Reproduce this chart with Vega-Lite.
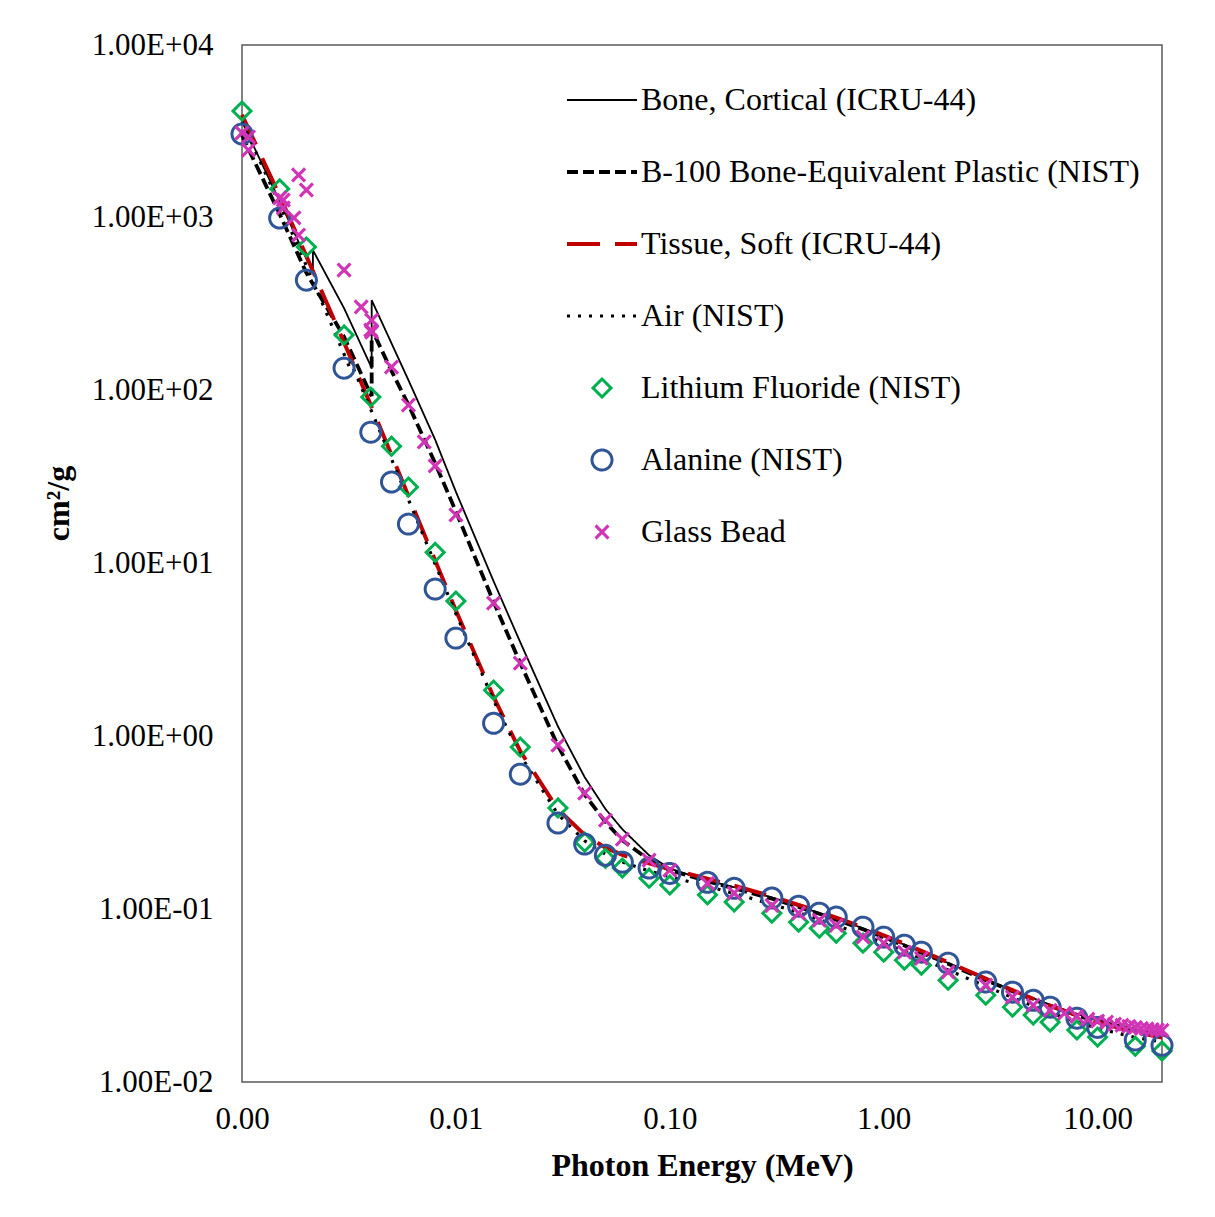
{
"$schema": "https://vega.github.io/schema/vega-lite/v6.json",
"width": 920, "height": 1037,
"autosize": {"type": "none"},
"padding": {"left": 242, "top": 45, "right": 53, "bottom": 135},
"background": "white",
"config": {"view": {"stroke": "#595959", "strokeWidth": 1.5}, "font": "Liberation Serif"},
"data": {"values": [
{"series":"Bone, Cortical (ICRU-44)","E":0.001,"v":3600},{"series":"Bone, Cortical (ICRU-44)","E":0.0015,"v":1250},{"series":"Bone, Cortical (ICRU-44)","E":0.002,"v":580},{"series":"Bone, Cortical (ICRU-44)","E":0.0021455,"v":490},{"series":"Bone, Cortical (ICRU-44)","E":0.0021455,"v":650},{"series":"Bone, Cortical (ICRU-44)","E":0.003,"v":300},{"series":"Bone, Cortical (ICRU-44)","E":0.004,"v":139},{"series":"Bone, Cortical (ICRU-44)","E":0.0040381,"v":134},{"series":"Bone, Cortical (ICRU-44)","E":0.0040381,"v":334},{"series":"Bone, Cortical (ICRU-44)","E":0.005,"v":188},{"series":"Bone, Cortical (ICRU-44)","E":0.006,"v":115},{"series":"Bone, Cortical (ICRU-44)","E":0.008,"v":52},{"series":"Bone, Cortical (ICRU-44)","E":0.01,"v":26},{"series":"Bone, Cortical (ICRU-44)","E":0.015,"v":7.9},{"series":"Bone, Cortical (ICRU-44)","E":0.02,"v":3.5},{"series":"Bone, Cortical (ICRU-44)","E":0.03,"v":1.14},{"series":"Bone, Cortical (ICRU-44)","E":0.04,"v":0.58},{"series":"Bone, Cortical (ICRU-44)","E":0.05,"v":0.38},{"series":"Bone, Cortical (ICRU-44)","E":0.06,"v":0.29},{"series":"Bone, Cortical (ICRU-44)","E":0.08,"v":0.205},{"series":"Bone, Cortical (ICRU-44)","E":0.1,"v":0.172},{"series":"Bone, Cortical (ICRU-44)","E":0.15,"v":0.146},{"series":"Bone, Cortical (ICRU-44)","E":0.2,"v":0.134},{"series":"Bone, Cortical (ICRU-44)","E":0.3,"v":0.117},{"series":"Bone, Cortical (ICRU-44)","E":0.4,"v":0.104},{"series":"Bone, Cortical (ICRU-44)","E":0.5,"v":0.095},{"series":"Bone, Cortical (ICRU-44)","E":0.6,"v":0.088},{"series":"Bone, Cortical (ICRU-44)","E":0.8,"v":0.0775},{"series":"Bone, Cortical (ICRU-44)","E":1,"v":0.0697},{"series":"Bone, Cortical (ICRU-44)","E":1.25,"v":0.0623},{"series":"Bone, Cortical (ICRU-44)","E":1.5,"v":0.0567},{"series":"Bone, Cortical (ICRU-44)","E":2,"v":0.0488},{"series":"Bone, Cortical (ICRU-44)","E":3,"v":0.0393},{"series":"Bone, Cortical (ICRU-44)","E":4,"v":0.034},{"series":"Bone, Cortical (ICRU-44)","E":5,"v":0.0305},{"series":"Bone, Cortical (ICRU-44)","E":6,"v":0.028},{"series":"Bone, Cortical (ICRU-44)","E":8,"v":0.0248},{"series":"Bone, Cortical (ICRU-44)","E":10,"v":0.0228},{"series":"Bone, Cortical (ICRU-44)","E":15,"v":0.0203},{"series":"Bone, Cortical (ICRU-44)","E":20,"v":0.0192},

{"series":"B-100 Bone-Equivalent Plastic (NIST)","E":0.001,"v":3000},{"series":"B-100 Bone-Equivalent Plastic (NIST)","E":0.0015,"v":1050},{"series":"B-100 Bone-Equivalent Plastic (NIST)","E":0.002,"v":480},{"series":"B-100 Bone-Equivalent Plastic (NIST)","E":0.003,"v":205},{"series":"B-100 Bone-Equivalent Plastic (NIST)","E":0.004,"v":95},{"series":"B-100 Bone-Equivalent Plastic (NIST)","E":0.0040381,"v":93},{"series":"B-100 Bone-Equivalent Plastic (NIST)","E":0.0040381,"v":228},{"series":"B-100 Bone-Equivalent Plastic (NIST)","E":0.005,"v":130},{"series":"B-100 Bone-Equivalent Plastic (NIST)","E":0.006,"v":83},{"series":"B-100 Bone-Equivalent Plastic (NIST)","E":0.008,"v":38},{"series":"B-100 Bone-Equivalent Plastic (NIST)","E":0.01,"v":20},{"series":"B-100 Bone-Equivalent Plastic (NIST)","E":0.015,"v":6.0},{"series":"B-100 Bone-Equivalent Plastic (NIST)","E":0.02,"v":2.65},{"series":"B-100 Bone-Equivalent Plastic (NIST)","E":0.03,"v":0.88},{"series":"B-100 Bone-Equivalent Plastic (NIST)","E":0.04,"v":0.46},{"series":"B-100 Bone-Equivalent Plastic (NIST)","E":0.05,"v":0.32},{"series":"B-100 Bone-Equivalent Plastic (NIST)","E":0.06,"v":0.25},{"series":"B-100 Bone-Equivalent Plastic (NIST)","E":0.08,"v":0.193},{"series":"B-100 Bone-Equivalent Plastic (NIST)","E":0.1,"v":0.168},{"series":"B-100 Bone-Equivalent Plastic (NIST)","E":0.15,"v":0.145},{"series":"B-100 Bone-Equivalent Plastic (NIST)","E":0.2,"v":0.132},{"series":"B-100 Bone-Equivalent Plastic (NIST)","E":0.3,"v":0.115},{"series":"B-100 Bone-Equivalent Plastic (NIST)","E":0.4,"v":0.103},{"series":"B-100 Bone-Equivalent Plastic (NIST)","E":0.5,"v":0.094},{"series":"B-100 Bone-Equivalent Plastic (NIST)","E":0.6,"v":0.087},{"series":"B-100 Bone-Equivalent Plastic (NIST)","E":0.8,"v":0.0765},{"series":"B-100 Bone-Equivalent Plastic (NIST)","E":1,"v":0.0688},{"series":"B-100 Bone-Equivalent Plastic (NIST)","E":1.25,"v":0.0616},{"series":"B-100 Bone-Equivalent Plastic (NIST)","E":1.5,"v":0.056},{"series":"B-100 Bone-Equivalent Plastic (NIST)","E":2,"v":0.0483},{"series":"B-100 Bone-Equivalent Plastic (NIST)","E":3,"v":0.0388},{"series":"B-100 Bone-Equivalent Plastic (NIST)","E":4,"v":0.0335},{"series":"B-100 Bone-Equivalent Plastic (NIST)","E":5,"v":0.03},{"series":"B-100 Bone-Equivalent Plastic (NIST)","E":6,"v":0.0275},{"series":"B-100 Bone-Equivalent Plastic (NIST)","E":8,"v":0.0243},{"series":"B-100 Bone-Equivalent Plastic (NIST)","E":10,"v":0.0223},{"series":"B-100 Bone-Equivalent Plastic (NIST)","E":15,"v":0.0198},{"series":"B-100 Bone-Equivalent Plastic (NIST)","E":20,"v":0.0187},

{"series":"Tissue, Soft (ICRU-44)","E":0.001,"v":3950},{"series":"Tissue, Soft (ICRU-44)","E":0.0015,"v":1340},{"series":"Tissue, Soft (ICRU-44)","E":0.002,"v":601},{"series":"Tissue, Soft (ICRU-44)","E":0.003,"v":190},{"series":"Tissue, Soft (ICRU-44)","E":0.004,"v":82.5},{"series":"Tissue, Soft (ICRU-44)","E":0.005,"v":42.5},{"series":"Tissue, Soft (ICRU-44)","E":0.006,"v":24.6},{"series":"Tissue, Soft (ICRU-44)","E":0.008,"v":10.4},{"series":"Tissue, Soft (ICRU-44)","E":0.01,"v":5.35},{"series":"Tissue, Soft (ICRU-44)","E":0.015,"v":1.69},{"series":"Tissue, Soft (ICRU-44)","E":0.02,"v":0.82},{"series":"Tissue, Soft (ICRU-44)","E":0.03,"v":0.378},{"series":"Tissue, Soft (ICRU-44)","E":0.04,"v":0.269},{"series":"Tissue, Soft (ICRU-44)","E":0.05,"v":0.227},{"series":"Tissue, Soft (ICRU-44)","E":0.06,"v":0.206},{"series":"Tissue, Soft (ICRU-44)","E":0.08,"v":0.184},{"series":"Tissue, Soft (ICRU-44)","E":0.1,"v":0.1705},{"series":"Tissue, Soft (ICRU-44)","E":0.15,"v":0.15},{"series":"Tissue, Soft (ICRU-44)","E":0.2,"v":0.1368},{"series":"Tissue, Soft (ICRU-44)","E":0.3,"v":0.1185},{"series":"Tissue, Soft (ICRU-44)","E":0.4,"v":0.1059},{"series":"Tissue, Soft (ICRU-44)","E":0.5,"v":0.0967},{"series":"Tissue, Soft (ICRU-44)","E":0.6,"v":0.0894},{"series":"Tissue, Soft (ICRU-44)","E":0.8,"v":0.0785},{"series":"Tissue, Soft (ICRU-44)","E":1,"v":0.0706},{"series":"Tissue, Soft (ICRU-44)","E":1.25,"v":0.0631},{"series":"Tissue, Soft (ICRU-44)","E":1.5,"v":0.0574},{"series":"Tissue, Soft (ICRU-44)","E":2,"v":0.0493},{"series":"Tissue, Soft (ICRU-44)","E":3,"v":0.0396},{"series":"Tissue, Soft (ICRU-44)","E":4,"v":0.034},{"series":"Tissue, Soft (ICRU-44)","E":5,"v":0.0303},{"series":"Tissue, Soft (ICRU-44)","E":6,"v":0.0277},{"series":"Tissue, Soft (ICRU-44)","E":8,"v":0.0243},{"series":"Tissue, Soft (ICRU-44)","E":10,"v":0.0222},{"series":"Tissue, Soft (ICRU-44)","E":15,"v":0.0194},{"series":"Tissue, Soft (ICRU-44)","E":20,"v":0.0181},

{"series":"Air (NIST)","E":0.001,"v":3606},{"series":"Air (NIST)","E":0.0015,"v":1191},{"series":"Air (NIST)","E":0.002,"v":527.9},{"series":"Air (NIST)","E":0.003,"v":162.5},{"series":"Air (NIST)","E":0.0032029,"v":134},{"series":"Air (NIST)","E":0.0032029,"v":148.5},{"series":"Air (NIST)","E":0.004,"v":77.88},{"series":"Air (NIST)","E":0.005,"v":40.27},{"series":"Air (NIST)","E":0.006,"v":23.41},{"series":"Air (NIST)","E":0.008,"v":9.921},{"series":"Air (NIST)","E":0.01,"v":5.12},{"series":"Air (NIST)","E":0.015,"v":1.614},{"series":"Air (NIST)","E":0.02,"v":0.7779},{"series":"Air (NIST)","E":0.03,"v":0.3538},{"series":"Air (NIST)","E":0.04,"v":0.2485},{"series":"Air (NIST)","E":0.05,"v":0.208},{"series":"Air (NIST)","E":0.06,"v":0.1875},{"series":"Air (NIST)","E":0.08,"v":0.1662},{"series":"Air (NIST)","E":0.1,"v":0.1541},{"series":"Air (NIST)","E":0.15,"v":0.1356},{"series":"Air (NIST)","E":0.2,"v":0.1233},{"series":"Air (NIST)","E":0.3,"v":0.1067},{"series":"Air (NIST)","E":0.4,"v":0.09549},{"series":"Air (NIST)","E":0.5,"v":0.08712},{"series":"Air (NIST)","E":0.6,"v":0.08055},{"series":"Air (NIST)","E":0.8,"v":0.07074},{"series":"Air (NIST)","E":1,"v":0.06358},{"series":"Air (NIST)","E":1.25,"v":0.05687},{"series":"Air (NIST)","E":1.5,"v":0.05175},{"series":"Air (NIST)","E":2,"v":0.04447},{"series":"Air (NIST)","E":3,"v":0.03581},{"series":"Air (NIST)","E":4,"v":0.03079},{"series":"Air (NIST)","E":5,"v":0.02751},{"series":"Air (NIST)","E":6,"v":0.02522},{"series":"Air (NIST)","E":8,"v":0.02225},{"series":"Air (NIST)","E":10,"v":0.02045},{"series":"Air (NIST)","E":15,"v":0.0181},{"series":"Air (NIST)","E":20,"v":0.01705},

{"series":"Lithium Fluoride (NIST)","E":0.001,"v":4150},{"series":"Lithium Fluoride (NIST)","E":0.0015,"v":1470},{"series":"Lithium Fluoride (NIST)","E":0.002,"v":678},{"series":"Lithium Fluoride (NIST)","E":0.003,"v":210},{"series":"Lithium Fluoride (NIST)","E":0.004,"v":91.9},{"series":"Lithium Fluoride (NIST)","E":0.005,"v":47.7},{"series":"Lithium Fluoride (NIST)","E":0.006,"v":27.7},{"series":"Lithium Fluoride (NIST)","E":0.008,"v":11.6},{"series":"Lithium Fluoride (NIST)","E":0.01,"v":6.06},{"series":"Lithium Fluoride (NIST)","E":0.015,"v":1.85},{"series":"Lithium Fluoride (NIST)","E":0.02,"v":0.866},{"series":"Lithium Fluoride (NIST)","E":0.03,"v":0.385},{"series":"Lithium Fluoride (NIST)","E":0.04,"v":0.244},{"series":"Lithium Fluoride (NIST)","E":0.05,"v":0.197},{"series":"Lithium Fluoride (NIST)","E":0.06,"v":0.173},{"series":"Lithium Fluoride (NIST)","E":0.08,"v":0.151},{"series":"Lithium Fluoride (NIST)","E":0.1,"v":0.138},{"series":"Lithium Fluoride (NIST)","E":0.15,"v":0.121},{"series":"Lithium Fluoride (NIST)","E":0.2,"v":0.11},{"series":"Lithium Fluoride (NIST)","E":0.3,"v":0.0948},{"series":"Lithium Fluoride (NIST)","E":0.4,"v":0.0841},{"series":"Lithium Fluoride (NIST)","E":0.5,"v":0.0776},{"series":"Lithium Fluoride (NIST)","E":0.6,"v":0.0726},{"series":"Lithium Fluoride (NIST)","E":0.8,"v":0.0636},{"series":"Lithium Fluoride (NIST)","E":1,"v":0.0564},{"series":"Lithium Fluoride (NIST)","E":1.25,"v":0.0507},{"series":"Lithium Fluoride (NIST)","E":1.5,"v":0.0474},{"series":"Lithium Fluoride (NIST)","E":2,"v":0.0388},{"series":"Lithium Fluoride (NIST)","E":3,"v":0.0318},{"series":"Lithium Fluoride (NIST)","E":4,"v":0.0271},{"series":"Lithium Fluoride (NIST)","E":5,"v":0.0244},{"series":"Lithium Fluoride (NIST)","E":6,"v":0.0222},{"series":"Lithium Fluoride (NIST)","E":8,"v":0.02},{"series":"Lithium Fluoride (NIST)","E":10,"v":0.0182},{"series":"Lithium Fluoride (NIST)","E":15,"v":0.0161},{"series":"Lithium Fluoride (NIST)","E":20,"v":0.0151},

{"series":"Alanine (NIST)","E":0.001,"v":3055},{"series":"Alanine (NIST)","E":0.0015,"v":997},{"series":"Alanine (NIST)","E":0.002,"v":436},{"series":"Alanine (NIST)","E":0.003,"v":135},{"series":"Alanine (NIST)","E":0.004,"v":57.5},{"series":"Alanine (NIST)","E":0.005,"v":29.6},{"series":"Alanine (NIST)","E":0.006,"v":16.9},{"series":"Alanine (NIST)","E":0.008,"v":7.11},{"series":"Alanine (NIST)","E":0.01,"v":3.7},{"series":"Alanine (NIST)","E":0.015,"v":1.19},{"series":"Alanine (NIST)","E":0.02,"v":0.604},{"series":"Alanine (NIST)","E":0.03,"v":0.315},{"series":"Alanine (NIST)","E":0.04,"v":0.238},{"series":"Alanine (NIST)","E":0.05,"v":0.205},{"series":"Alanine (NIST)","E":0.06,"v":0.187},{"series":"Alanine (NIST)","E":0.08,"v":0.173},{"series":"Alanine (NIST)","E":0.1,"v":0.161},{"series":"Alanine (NIST)","E":0.15,"v":0.143},{"series":"Alanine (NIST)","E":0.2,"v":0.132},{"series":"Alanine (NIST)","E":0.3,"v":0.116},{"series":"Alanine (NIST)","E":0.4,"v":0.104},{"series":"Alanine (NIST)","E":0.5,"v":0.0948},{"series":"Alanine (NIST)","E":0.6,"v":0.09},{"series":"Alanine (NIST)","E":0.8,"v":0.0787},{"series":"Alanine (NIST)","E":1,"v":0.0689},{"series":"Alanine (NIST)","E":1.25,"v":0.0619},{"series":"Alanine (NIST)","E":1.5,"v":0.0564},{"series":"Alanine (NIST)","E":2,"v":0.0487},{"series":"Alanine (NIST)","E":3,"v":0.0379},{"series":"Alanine (NIST)","E":4,"v":0.0331},{"series":"Alanine (NIST)","E":5,"v":0.0297},{"series":"Alanine (NIST)","E":6,"v":0.0271},{"series":"Alanine (NIST)","E":8,"v":0.0234},{"series":"Alanine (NIST)","E":10,"v":0.0207},{"series":"Alanine (NIST)","E":15,"v":0.0175},{"series":"Alanine (NIST)","E":20,"v":0.0163},

{"series":"Glass Bead","E":0.001,"v":3100},{"series":"Glass Bead","E":0.0010721,"v":2466},{"series":"Glass Bead","E":0.0010721,"v":2940},{"series":"Glass Bead","E":0.0015,"v":1303},{"series":"Glass Bead","E":0.0015596,"v":1140},{"series":"Glass Bead","E":0.0015596,"v":1268},{"series":"Glass Bead","E":0.00175,"v":1000},{"series":"Glass Bead","E":0.0018389,"v":795},{"series":"Glass Bead","E":0.0018389,"v":1770},{"series":"Glass Bead","E":0.002,"v":1449},{"series":"Glass Bead","E":0.003,"v":499},{"series":"Glass Bead","E":0.0036074,"v":305},{"series":"Glass Bead","E":0.004,"v":224},{"series":"Glass Bead","E":0.0040381,"v":218},{"series":"Glass Bead","E":0.0040381,"v":256},{"series":"Glass Bead","E":0.005,"v":137},{"series":"Glass Bead","E":0.006,"v":82.6},{"series":"Glass Bead","E":0.007112,"v":50.5},{"series":"Glass Bead","E":0.008,"v":36.7},{"series":"Glass Bead","E":0.01,"v":19.1},{"series":"Glass Bead","E":0.015,"v":5.9},{"series":"Glass Bead","E":0.02,"v":2.65},{"series":"Glass Bead","E":0.03,"v":0.889},{"series":"Glass Bead","E":0.04,"v":0.469},{"series":"Glass Bead","E":0.05,"v":0.327},{"series":"Glass Bead","E":0.06,"v":0.254},{"series":"Glass Bead","E":0.08,"v":0.192},{"series":"Glass Bead","E":0.1,"v":0.168},{"series":"Glass Bead","E":0.15,"v":0.141},{"series":"Glass Bead","E":0.2,"v":0.124},{"series":"Glass Bead","E":0.3,"v":0.105},{"series":"Glass Bead","E":0.4,"v":0.0948},{"series":"Glass Bead","E":0.5,"v":0.0863},{"series":"Glass Bead","E":0.6,"v":0.0807},{"series":"Glass Bead","E":0.8,"v":0.0689},{"series":"Glass Bead","E":1,"v":0.0636},{"series":"Glass Bead","E":1.25,"v":0.0564},{"series":"Glass Bead","E":1.5,"v":0.052},{"series":"Glass Bead","E":2,"v":0.0433},{"series":"Glass Bead","E":3,"v":0.0363},{"series":"Glass Bead","E":4,"v":0.031},{"series":"Glass Bead","E":5,"v":0.0278},{"series":"Glass Bead","E":6,"v":0.026},{"series":"Glass Bead","E":7,"v":0.025},{"series":"Glass Bead","E":8,"v":0.024},{"series":"Glass Bead","E":9,"v":0.0231},{"series":"Glass Bead","E":10,"v":0.0225},{"series":"Glass Bead","E":11,"v":0.0222},{"series":"Glass Bead","E":12,"v":0.0216},{"series":"Glass Bead","E":13,"v":0.0213},{"series":"Glass Bead","E":14,"v":0.021},{"series":"Glass Bead","E":15,"v":0.0207},{"series":"Glass Bead","E":16,"v":0.0204},{"series":"Glass Bead","E":17,"v":0.0203},{"series":"Glass Bead","E":18,"v":0.0201},{"series":"Glass Bead","E":19,"v":0.02},{"series":"Glass Bead","E":20,"v":0.0199}
]},
"encoding": {
  "x": {"field": "E", "type": "quantitative",
    "scale": {"type": "log", "domain": [0.001, 20], "nice": false},
    "axis": {"values": [0.001, 0.01, 0.1, 1, 10], "format": ".2f", "title": "Photon Energy (MeV)",
      "ticks": false, "tickSize": 0, "domain": false, "grid": false, "labelFlush": false, "labelOverlap": false,
      "labelFont": "Liberation Serif", "labelFontSize": 31, "labelColor": "black", "labelPadding": 22,
      "titleFont": "Liberation Serif", "titleFontSize": 32, "titleFontWeight": "bold", "titleColor": "black",
      "titleBaseline": "alphabetic", "titleY": 93}},
  "y": {"field": "v", "type": "quantitative",
    "scale": {"type": "log", "domain": [0.01, 10000], "nice": false},
    "axis": {"values": [0.01, 0.1, 1, 10, 100, 1000, 10000],
      "labelExpr": "'1.00E' + (datum.value >= 1 ? '+' : '-') + '0' + abs(round(log(datum.value)/LN10))",
      "title": "cm²/g", "ticks": false, "tickSize": 0, "domain": false, "grid": false, "labelFlush": false, "labelOverlap": false,
      "labelFont": "Liberation Serif", "labelFontSize": 31, "labelColor": "black", "labelPadding": 29,
      "titleFont": "Liberation Serif", "titleFontSize": 32, "titleFontWeight": "bold", "titleColor": "black",
      "titleAngle": 270, "titleAlign": "center", "titleBaseline": "alphabetic", "titleX": -174, "titleY": 458}},
  "color": {"field": "series", "type": "nominal",
    "scale": {"domain": ["Bone, Cortical (ICRU-44)", "B-100 Bone-Equivalent Plastic (NIST)", "Tissue, Soft (ICRU-44)", "Air (NIST)", "Lithium Fluoride (NIST)", "Alanine (NIST)", "Glass Bead"],
      "range": ["#000000", "#000000", "#C00000", "#000000", "#00B050", "#2F5597", "#D035B5"]},
    "legend": {"title": null, "orient": "none", "legendX": 344, "legendY": 39,
      "labelFont": "Liberation Serif", "labelFontSize": 32, "labelColor": "black", "labelLimit": 700,
      "labelOffset": 23, "symbolSize": 400, "rowPadding": 40, "symbolFillColor": "transparent"}},
  "strokeDash": {"field": "series", "type": "nominal",
    "scale": {"domain": ["Bone, Cortical (ICRU-44)", "B-100 Bone-Equivalent Plastic (NIST)", "Tissue, Soft (ICRU-44)", "Air (NIST)", "Lithium Fluoride (NIST)", "Alanine (NIST)", "Glass Bead"],
      "range": [[1, 0], [11, 5], [33, 15], [3, 8], [1, 0], [1, 0], [1, 0]]}},
  "strokeWidth": {"field": "series", "type": "ordinal",
    "scale": {"type": "ordinal", "domain": ["Bone, Cortical (ICRU-44)", "B-100 Bone-Equivalent Plastic (NIST)", "Tissue, Soft (ICRU-44)", "Air (NIST)", "Lithium Fluoride (NIST)", "Alanine (NIST)", "Glass Bead"],
      "range": [1.8, 3.8, 4, 3.2, 3, 3, 3.2]}}
},
"layer": [
  {"transform": [{"filter": {"field": "series", "oneOf": ["Bone, Cortical (ICRU-44)", "B-100 Bone-Equivalent Plastic (NIST)", "Tissue, Soft (ICRU-44)", "Air (NIST)"]}}],
   "mark": {"type": "line"}},
  {"transform": [{"filter": {"field": "series", "oneOf": ["Lithium Fluoride (NIST)", "Alanine (NIST)", "Glass Bead"]}}],
   "mark": {"type": "point", "filled": false, "size": 400, "opacity": 1},
   "encoding": {"shape": {"field": "series", "type": "nominal",
     "scale": {"domain": ["Bone, Cortical (ICRU-44)", "B-100 Bone-Equivalent Plastic (NIST)", "Tissue, Soft (ICRU-44)", "Air (NIST)", "Lithium Fluoride (NIST)", "Alanine (NIST)", "Glass Bead"],
       "range": ["M-3.5,0H3.5", "M-3.5,0H3.5", "M-3.5,0H3.5", "M-3.5,0H3.5", "M-0.9,0L0,-0.9L0.9,0L0,0.9Z", "circle", "M-0.65,-0.65L0.65,0.65M-0.65,0.65L0.65,-0.65"]}}}}
]
}
